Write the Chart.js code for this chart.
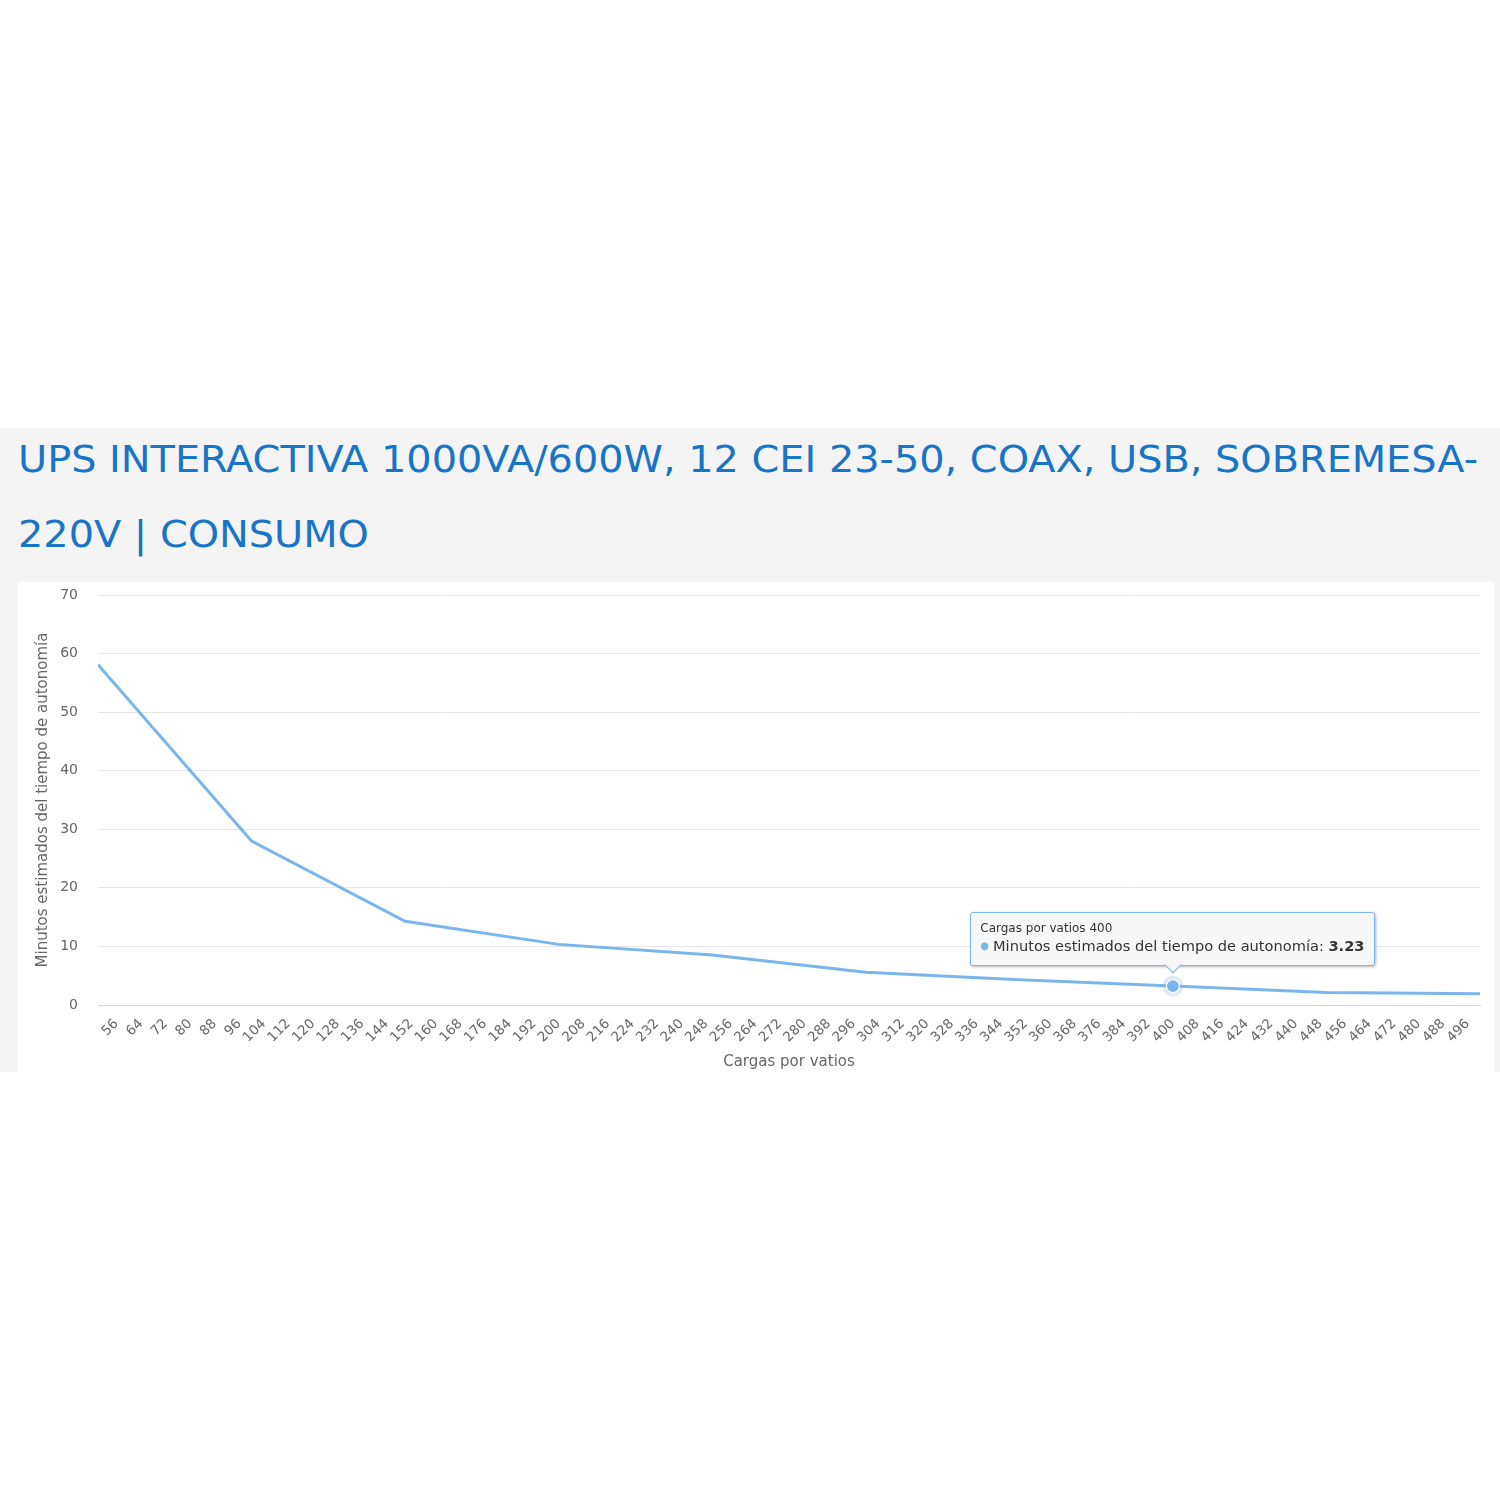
<!DOCTYPE html>
<html><head><meta charset="utf-8">
<script src="https://cdn.jsdelivr.net/npm/chart.js@4.4.1/dist/chart.umd.min.js"></script>
<style>
html,body{margin:0;padding:0;background:#fff;width:1500px;height:1500px;overflow:hidden;}
#band{position:absolute;left:0;top:428px;width:1500px;height:644px;background:#f4f4f4;}
.tl{position:absolute;left:18px;font-family:"DejaVu Sans",sans-serif;font-size:38px;line-height:38px;color:#1874c6;white-space:nowrap;transform-origin:0 0;}
#box{position:absolute;left:18px;top:582px;width:1476px;height:490px;background:#fff;}
#tip{position:absolute;display:none;background:#f7f7f7;border:1px solid #7cb5ec;border-radius:3px;box-shadow:1px 1px 3px rgba(0,0,0,0.28);padding:7px 10px 9px 9px;font-family:"DejaVu Sans",sans-serif;color:#333;white-space:nowrap;}
#tip .tt{font-size:12px;line-height:16px;}
#tip .tb{font-size:14.6px;line-height:20px;}
#tip .dot{color:#7cb5ec;font-size:10px;margin-right:4px;vertical-align:2px;}
#tip .car{position:absolute;left:50%;bottom:-6px;width:11px;height:11px;margin-left:-6px;background:#f7f7f7;border-right:1px solid #7cb5ec;border-bottom:1px solid #7cb5ec;transform:rotate(45deg);}
</style></head><body>
<div id="band"></div>
<div class="tl" id="t1" style="top:440px">UPS INTERACTIVA 1000VA/600W, 12 CEI 23-50, COAX, USB, SOBREMESA-</div>
<div class="tl" id="t2" style="top:515px">220V | CONSUMO</div>
<div id="box"><canvas id="c"></canvas></div>
<div id="tip"></div>
<script>
// ---- data ----
const loadWatts = [50, 100, 150, 200, 250, 300, 350, 400, 450, 500];
const runtimeMinutes = [58.1, 28.0, 14.3, 10.35, 8.55, 5.58, 4.3, 3.23, 2.12, 1.9];
const xTickLabels = [56,64,72,80,88,96,104,112,120,128,136,144,152,160,168,176,184,192,200,208,216,224,232,240,248,256,264,272,280,288,296,304,312,320,328,336,344,352,360,368,376,384,392,400,408,416,424,432,440,448,456,464,472,480,488,496];
const yTickLabels = [0,10,20,30,40,50,60,70];
const seriesName = 'Minutos estimados del tiempo de autonomía';
const xTitle = 'Cargas por vatios';
const highlightWatt = 400;

// ---- title fit ----
const t1 = document.getElementById('t1'), t2 = document.getElementById('t2');
const sc = 1460 / t1.getBoundingClientRect().width;
t1.style.transform = t2.style.transform = 'scaleX(' + sc + ')';

const FONT = '"DejaVu Sans", sans-serif';
const tipEl = document.getElementById('tip');
const boxEl = document.getElementById('box');

const haloPlugin = {
  id: 'halo',
  beforeDatasetsDraw(chart) {
    const act = chart.getActiveElements();
    const ctx = chart.ctx;
    act.forEach(a => {
      const el = chart.getDatasetMeta(a.datasetIndex).data[a.index];
      ctx.save();
      ctx.beginPath();
      ctx.arc(el.x, el.y, 10.5, 0, Math.PI * 2);
      ctx.fillStyle = 'rgba(124,181,236,0.25)';
      ctx.fill();
      ctx.restore();
    });
  }
};

function externalTip(context) {
  const tt = context.tooltip;
  if (!tt || tt.opacity === 0 || !tt.dataPoints || !tt.dataPoints.length) { tipEl.style.display = 'none'; return; }
  const dp = tt.dataPoints[0];
  tipEl.innerHTML = '<div class="tt">' + xTitle + ' ' + dp.parsed.x + '</div>' +
    '<div class="tb"><span class="dot">\u25CF</span>' + dp.dataset.label + ': <b>' + dp.parsed.y + '</b></div>' +
    '<div class="car"></div>';
  tipEl.style.display = 'block';
  const r = tipEl.getBoundingClientRect();
  const bx = boxEl.offsetLeft, by = boxEl.offsetTop;
  tipEl.style.left = (bx + tt.caretX - r.width / 2) + 'px';
  tipEl.style.top = (by + tt.caretY - 20 - r.height) + 'px';
}

const chart = new Chart(document.getElementById('c'), {
  type: 'line',
  data: {
    datasets: [{
      label: seriesName,
      data: loadWatts.map((w, i) => ({ x: w, y: runtimeMinutes[i] })),
      borderColor: '#7cb5ec',
      backgroundColor: '#7cb5ec',
      borderWidth: 3,
      tension: 0,
      pointRadius: 0,
      pointHoverRadius: 6.5,
      pointHoverBackgroundColor: '#7cb5ec',
      pointHoverBorderColor: '#ffffff',
      pointHoverBorderWidth: 1.2,
      fill: false
    }]
  },
  options: {
    responsive: true,
    maintainAspectRatio: false,
    animation: false,
    events: [],
    devicePixelRatio: 1,
    layout: { padding: { top: 13, right: 14, left: 0, bottom: 0 } },
    plugins: {
      legend: { display: false },
      title: { display: false },
      tooltip: { enabled: false, external: externalTip }
    },
    scales: {
      x: {
        type: 'linear',
        min: 50, max: 500,
        afterBuildTicks: (axis) => { axis.ticks = xTickLabels.map(v => ({ value: v })); },
        afterFit: (s) => { s.height = 67; },
        ticks: {
          autoSkip: false, minRotation: 45, maxRotation: 45,
          color: '#666', padding: 11,
          font: { family: FONT, size: 13.5 },
          callback: (v) => String(v)
        },
        grid: { display: false, drawTicks: false },
        border: { display: true, color: '#ccd6eb', width: 1 },
        title: { display: true, text: xTitle, color: '#666', font: { family: FONT, size: 15 }, padding: { top: 0, bottom: 1 } }
      },
      y: {
        min: 0, max: 70,
        afterBuildTicks: (axis) => { axis.ticks = yTickLabels.map(v => ({ value: v })); },
        afterFit: (s) => { s.width = 80; },
        ticks: { color: '#666', padding: 0, font: { family: FONT, size: 14 }, callback: (v) => String(v) },
        grid: { color: '#e6e6e6', lineWidth: 1, drawTicks: true, tickLength: 20, tickColor: 'rgba(0,0,0,0)' },
        border: { display: false },
        title: { display: true, text: seriesName, color: '#666', font: { family: FONT, size: 15 }, padding: { top: 16, bottom: 0 } }
      }
    }
  },
  plugins: [haloPlugin]
});

const idx = loadWatts.indexOf(highlightWatt);
const act = [{ datasetIndex: 0, index: idx }];
chart.setActiveElements(act);
const el = chart.getDatasetMeta(0).data[idx];
chart.tooltip.setActiveElements(act, { x: el.x, y: el.y });
chart.draw();
</script>
</body></html>
